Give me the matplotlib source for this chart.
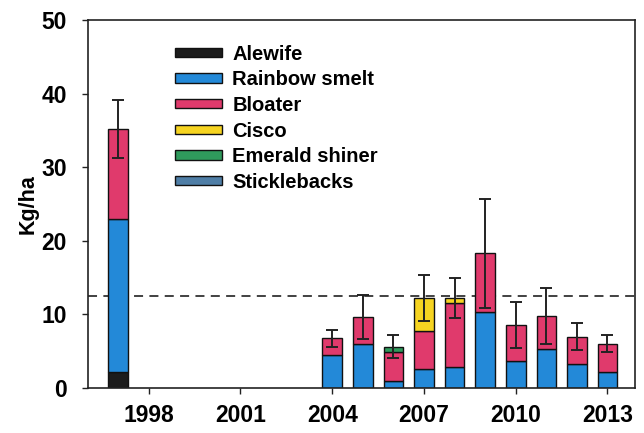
import matplotlib
matplotlib.use("Agg")
import matplotlib.pyplot as plt
from matplotlib.patches import Patch
import numpy as np

plt.rcParams['font.family'] = ['Liberation Sans', 'DejaVu Sans']
plt.rcParams['font.weight'] = 'bold'

# ---- data ----
years = [1998, 2004, 2005, 2006, 2007, 2008, 2009, 2010, 2011, 2012, 2013]
alewife = [2.2, 0, 0, 0, 0, 0, 0, 0, 0, 0, 0]
rainbow_smelt = [20.8, 4.5, 5.9, 0.9, 2.55, 2.8, 10.3, 3.6, 5.25, 3.2, 2.1]
bloater = [12.2, 2.2, 3.7, 4.0, 5.2, 8.75, 8.0, 4.9, 4.5, 3.75, 3.9]
cisco = [0, 0, 0, 0, 4.45, 0.65, 0, 0, 0, 0, 0]
emerald_shiner = [0, 0, 0, 0.7, 0, 0, 0, 0, 0, 0, 0]
sticklebacks = [0, 0, 0, 0, 0, 0, 0, 0, 0, 0, 0]
errors = [3.9, 1.1, 3.0, 1.6, 3.1, 2.7, 7.4, 3.1, 3.8, 1.8, 1.2]
reference_level = 12.5
xtick_years = [1998, 2001, 2004, 2007, 2010, 2013]

species = ["Alewife", "Rainbow smelt", "Bloater", "Cisco", "Emerald shiner", "Sticklebacks"]
series = [alewife, rainbow_smelt, bloater, cisco, emerald_shiner, sticklebacks]
colors = ["#1c1c1c", "#2389d8", "#e03a6c", "#f6d421", "#2f9a5c", "#4f7ea6"]

# layout: the 1998 bar is drawn one slot to the left of its tick in the original
shift = {1998: -1}
xpos = np.array([y + shift.get(y, 0) for y in years], dtype=float)

fig = plt.figure(figsize=(6.44, 4.33), dpi=100)
ax = fig.add_axes([0.136, 0.1046, 0.850, 0.8492])

bottom = np.zeros(len(years))
for name, vals, c in zip(species, series, colors):
    vals = np.array(vals, dtype=float)
    m = vals > 0
    ax.bar(xpos[m], vals[m], width=0.64, bottom=bottom[m], color=c,
           edgecolor="#111111", linewidth=1.0, zorder=2)
    bottom += vals

ax.errorbar(xpos, bottom, yerr=errors, fmt="none", ecolor="#222222",
            elinewidth=1.4, capsize=4, capthick=1.4, zorder=3)

ax.axhline(reference_level, color="#333333", linestyle=(0, (5, 3.5)),
           linewidth=1.3, zorder=1)

ax.set_xlim(1996.0, 2013.9)
ax.set_ylim(0, 50)
ax.set_xticks(xtick_years)
ax.set_xticklabels([str(y) for y in xtick_years], fontsize=16.5, fontweight='bold')
ax.set_yticks([0, 10, 20, 30, 40, 50])
ax.set_yticklabels(["0", "10", "20", "30", "40", "50"], fontsize=16.5, fontweight='bold')
ax.tick_params(axis='both', direction='out', length=4, width=1.0, color="#222222")
ax.tick_params(axis='x', pad=8)
ax.tick_params(axis='y', pad=11)
for s in ax.spines.values():
    s.set_linewidth(1.2)
    s.set_color("#222222")
ax.set_ylabel("Kg/ha", fontsize=15.5, fontweight='bold', labelpad=2)

handles = [Patch(facecolor=c, edgecolor="#111111", linewidth=1.0, label=n)
           for n, c in zip(species, colors)]
leg = ax.legend(handles=handles, loc="upper left", bbox_to_anchor=(0.145, 0.955),
                frameon=False, fontsize=14.5, handlelength=2.35, handleheight=0.32,
                labelspacing=0.33, handletextpad=0.5, borderaxespad=0)
for t in leg.get_texts():
    t.set_fontweight('bold')

fig.savefig("out.png", dpi=100)
